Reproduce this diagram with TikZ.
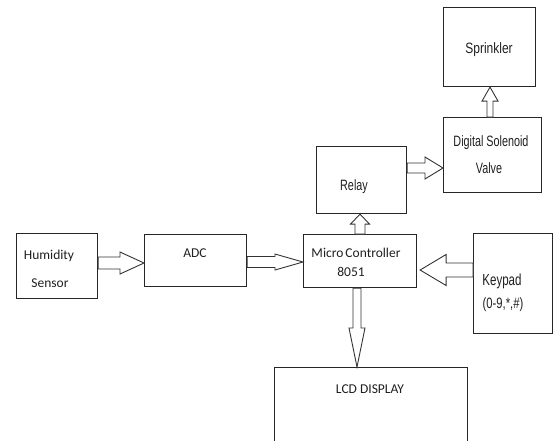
\documentclass[tikz,border=0pt]{standalone}
\usepackage{fontspec}
\usepackage{graphicx}
\setmainfont{Carlito}
\newfontfamily\arialfont{Liberation Sans}
\usetikzlibrary{calc}
\tikzset{
  box/.style={draw=black!85, line width=1.1pt, anchor=north west, inner sep=0pt},
  blockarrow/.style={draw=black!80, line width=0.9pt, fill=white, line join=miter},
  lbl/.style={inner sep=0pt, anchor=base, text=black!88, font=\fontsize{13.5}{15}\selectfont},
}
% condensed sans label: size, horizontal squeeze, text
\newcommand\cond[3]{\scalebox{#2}[1]{\arialfont\fontsize{#1}{#1}\selectfont #3}}
% hollow block arrow along x: tail anchor, tip anchor, centre y, shaft half-width, head half-width, head length
\newcommand\harr[6]{%
  \draw[blockarrow] let \p1=(#1), \p2=(#2), \p3=(0,#3), \n1={sign(\x2-\x1)} in
    (\x1,\y3+#4pt) -- (\x2-\n1*#6pt,\y3+#4pt) -- (\x2-\n1*#6pt,\y3+#5pt) -- (\x2,\y3)
    -- (\x2-\n1*#6pt,\y3-#5pt) -- (\x2-\n1*#6pt,\y3-#4pt) -- (\x1,\y3-#4pt) -- cycle;}
% hollow block arrow along y: tail anchor, tip anchor, centre x, shaft half-width, head half-width, head length
\newcommand\varr[6]{%
  \draw[blockarrow] let \p1=(#1), \p2=(#2), \p3=(#3,0), \n1={sign(\y2-\y1)} in
    (\x3+#4pt,\y1) -- (\x3+#4pt,\y2-\n1*#6pt) -- (\x3+#5pt,\y2-\n1*#6pt) -- (\x3,\y2)
    -- (\x3-#5pt,\y2-\n1*#6pt) -- (\x3-#4pt,\y2-\n1*#6pt) -- (\x3-#4pt,\y1) -- cycle;}
\begin{document}
\begin{tikzpicture}[x=1pt,y=-1pt]
\useasboundingbox (0,0) rectangle (556,440);
\clip (0,0) rectangle (556,440);

% blocks
\node[box, minimum width=81pt,  minimum height=65pt] (hs)     at (16,233) {};
\node[box, minimum width=102pt, minimum height=52pt] (adc)    at (144,234) {};
\node[box, minimum width=113pt, minimum height=53pt] (mc)     at (303,234) {};
\node[box, minimum width=90pt,  minimum height=67pt] (relay)  at (316,146) {};
\node[box, minimum width=98pt,  minimum height=75pt] (valve)  at (443,117) {};
\node[box, minimum width=92pt,  minimum height=79pt] (sprink) at (443,7) {};
\node[box, minimum width=79pt,  minimum height=100pt] (keypad) at (473,233) {};
\node[box, minimum width=193pt, minimum height=80pt] (lcd)    at (274,367) {};
\coordinate (mctip) at ([xshift=3pt]mc.east);

% labels
\node[lbl] (hs1)  at (49,259)  {Humidity};
\node[lbl] (hs2)  at (50,287)  {Sensor};
\node[lbl] (adct) at (195,257) {ADC};
\node[lbl] (mc1)  at (356,257) {Micro\hspace{-1pt} Controller};
\node[lbl] (mc2)  at (351,276) {8051};
\node[lbl] (rl)   at (354,190) {\cond{15}{0.72}{Relay}};
\node[lbl] (dv1)  at (491,146) {\cond{15}{0.72}{Digital Solenoid}};
\node[lbl] (dv2)  at (489,173) {\cond{15}{0.72}{Valve}};
\node[lbl] (sp)   at (489,53)  {\cond{15}{0.8}{Sprinkler}};
\node[lbl] (kp1)  at (502,285) {\cond{16}{0.72}{Keypad}};
\node[lbl] (kp2)  at (503,308) {\cond{15}{0.75}{(0-9,*,\#)}};
\node[lbl] (lcdt) at (370,393) {LCD DISPLAY};

% connectors
\harr{hs.east}{adc.west}{263}{6}{11}{24}
\harr{adc.east}{mc.west}{262}{5.5}{8}{28}
\varr{mc.north}{relay.south}{360}{5}{9.5}{10}
\harr{relay.east}{valve.west}{168}{5}{11}{18}
\varr{valve.north}{sprink.south}{490}{3}{8}{14}
\harr{keypad.west}{mctip}{270}{7}{15.5}{26}
\varr{mc.south}{lcd.north}{357}{4}{8}{39}
\end{tikzpicture}
\end{document}
